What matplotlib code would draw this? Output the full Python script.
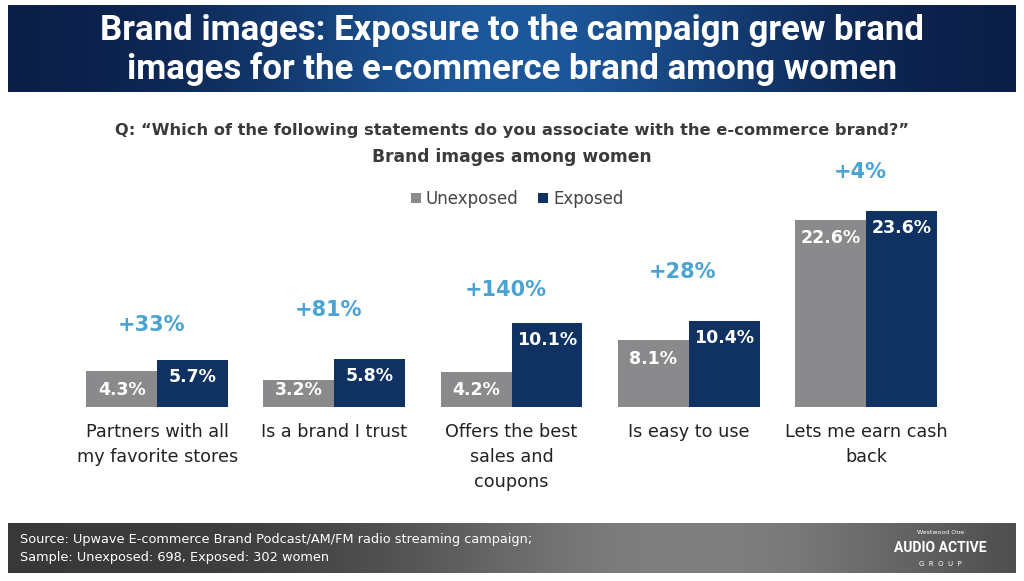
import numpy as np
import matplotlib
matplotlib.use("Agg")
import matplotlib.pyplot as plt

# data
categories = ["Partners with all\nmy favorite stores", "Is a brand I trust",
              "Offers the best\nsales and\ncoupons", "Is easy to use",
              "Lets me earn cash\nback"]
unexposed = [4.3, 3.2, 4.2, 8.1, 22.6]
exposed = [5.7, 5.8, 10.1, 10.4, 23.6]
lifts = ["+33%", "+81%", "+140%", "+28%", "+4%"]

gray = "#8a8a8c"
navy = "#0f3262"
lift_col = "#4aa3d2"
txt_col = "#3a3a3a"
lift_pad = [35, 49, 33, 49, 39]  # px above taller bar

plt.rcParams['font.family'] = ['DejaVu Sans']
fig = plt.figure(figsize=(10.24, 5.81), dpi=100)
W, H = 1024, 581

def frac(x0, y0, x1, y1):
    # pixel box (top-left origin) -> figure fraction
    return [x0 / W, 1 - y1 / H, (x1 - x0) / W, (y1 - y0) / H]

# title banner
bax = fig.add_axes(frac(8, 5, 1016, 92))
xx = np.linspace(-1, 1, 400)
g = np.exp(-(xx / 0.55) ** 2)
c0 = np.array([0x0a, 0x1c, 0x44]) / 255
c1 = np.array([0x1d, 0x58, 0x9c]) / 255
img = c0[None, None, :] + (c1 - c0)[None, None, :] * g[None, :, None]
img = np.repeat(img, 20, axis=0)
bax.imshow(img, aspect="auto", extent=[0, 1, 0, 1])
bax.set_axis_off()
bax.text(0.5, 0.71, "Brand images: Exposure to the campaign grew brand",
         color="white", fontsize=25, fontweight="bold", family="Roboto",
         ha="center", va="center", transform=bax.transAxes)
bax.text(0.5, 0.27, "images for the e-commerce brand among women",
         color="white", fontsize=25, fontweight="bold", family="Roboto",
         ha="center", va="center", transform=bax.transAxes)

# footer
fax = fig.add_axes(frac(8, 523, 1016, 573))
xx = np.linspace(0, 1, 400)
g = np.exp(-((xx - 0.68) / 0.3) ** 2)
d0 = np.array([0x38, 0x38, 0x38]) / 255
d1 = np.array([0x80, 0x80, 0x80]) / 255
img = d0[None, None, :] + (d1 - d0)[None, None, :] * g[None, :, None]
img = np.repeat(img, 10, axis=0)
fax.imshow(img, aspect="auto", extent=[0, 1, 0, 1])
fax.set_axis_off()
fax.text(0.012, 0.66, "Source: Upwave E-commerce Brand Podcast/AM/FM radio streaming campaign;",
         color="white", fontsize=9.3, ha="left", va="center", transform=fax.transAxes)
fax.text(0.012, 0.3, "Sample: Unexposed: 698, Exposed: 302 women",
         color="white", fontsize=9.3, ha="left", va="center", transform=fax.transAxes)
fax.text(0.925, 0.82, "Westwood One", color="white", fontsize=4.5,
         ha="center", va="center", transform=fax.transAxes)
fax.text(0.925, 0.5, "AUDIO ACTIVE", color="white", fontsize=10, fontweight="bold",
         family="Roboto", ha="center", va="center", transform=fax.transAxes)
fax.text(0.925, 0.17, "G  R  O  U  P", color="white", fontsize=5,
         ha="center", va="center", transform=fax.transAxes)

# question + subtitle
fig.text(0.5, 1 - 131 / H,
         "Q: \u201cWhich of the following statements do you associate with the e-commerce brand?\u201d",
         color=txt_col, fontsize=11.7, fontweight="bold", ha="center", va="center")
fig.text(0.5, 1 - 157 / H, "Brand images among women",
         color=txt_col, fontsize=12.3, fontweight="bold", ha="center", va="center")

# bars
ax = fig.add_axes(frac(68.5, 160, 954.5, 407))
x = np.arange(len(categories))
w = 0.4
b1 = ax.bar(x - w / 2, unexposed, w, color=gray, label="Unexposed")
b2 = ax.bar(x + w / 2, exposed, w, color=navy, label="Exposed")
ax.set_xlim(-0.5, len(categories) - 0.5)
ax.set_ylim(0, 29.8)
ax.set_axis_off()

for i in range(len(categories)):
    # keep value labels inside the bar, but not below ~17px off baseline
    yu = max(unexposed[i] - 2.25, 2.05)
    ye = max(exposed[i] - 2.05, 2.05)
    ax.text(x[i] - w / 2, yu, f"{unexposed[i]:.1f}%", ha="center", va="center",
            color="white", fontsize=12.5, fontweight="bold")
    ax.text(x[i] + w / 2, ye, f"{exposed[i]:.1f}%", ha="center", va="center",
            color="white", fontsize=12.5, fontweight="bold")
    top = max(unexposed[i], exposed[i])
    ax.annotate(lifts[i], (x[i], top), xytext=(-6, lift_pad[i]), textcoords="offset pixels",
                ha="center", va="center", color=lift_col, fontsize=15, fontweight="bold")
    ax.annotate(categories[i], (x[i], 0), xytext=(0, -16), textcoords="offset pixels",
                ha="center", va="top", color="#222222", fontsize=12.7, linespacing=1.5,
                annotation_clip=False)

leg = fig.legend(handles=[b1, b2], loc="center", bbox_to_anchor=(0.505, 1 - 199 / H),
                 ncol=2, frameon=False, fontsize=12, handlelength=0.6, handleheight=0.6,
                 handletextpad=0.3, columnspacing=1.2)
for t in leg.get_texts():
    t.set_color("#444444")

fig.savefig("out.png", dpi=100, facecolor="white")
